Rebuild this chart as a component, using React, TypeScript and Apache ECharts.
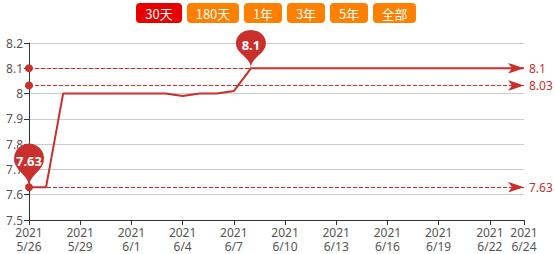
import React, { useEffect, useRef } from "react";
import * as echarts from "echarts";

const dates = [
  "2021/5/26", "2021/5/27", "2021/5/28", "2021/5/29", "2021/5/30", "2021/5/31",
  "2021/6/1", "2021/6/2", "2021/6/3", "2021/6/4", "2021/6/5", "2021/6/6",
  "2021/6/7", "2021/6/8", "2021/6/9", "2021/6/10", "2021/6/11", "2021/6/12",
  "2021/6/13", "2021/6/14", "2021/6/15", "2021/6/16", "2021/6/17", "2021/6/18",
  "2021/6/19", "2021/6/20", "2021/6/21", "2021/6/22", "2021/6/23", "2021/6/24",
];
const values = [
  7.63, 7.63, 8.0, 8.0, 8.0, 8.0,
  8.0, 8.0, 8.0, 7.99, 8.0, 8.0,
  8.01, 8.1, 8.1, 8.1, 8.1, 8.1,
  8.1, 8.1, 8.1, 8.1, 8.1, 8.1,
  8.1, 8.1, 8.1, 8.1, 8.1, 8.1,
];
const buttons = ["30天", "180天", "1年", "3年", "5年", "全部"];
const buttonWidths = [46, 52, 38, 38, 38, 43];
const yMin = 7.5;
const yMax = 8.2;
const yStep = 0.1;

const RED = "#c9302c";

export default function App() {
  const ref = useRef<HTMLDivElement>(null);
  useEffect(() => {
    if (!ref.current) return;
    const chart = echarts.init(ref.current, null, { renderer: "svg" });
    const showIdx = (i: number) => i % 3 === 0 || i === dates.length - 1;
    let x = 136;
    const btnEls: any[] = [];
    buttons.forEach((b, i) => {
      const w = buttonWidths[i];
      btnEls.push({
        type: "group",
        left: x,
        top: 3,
        children: [
          {
            type: "rect",
            shape: { x: 0, y: 0, width: w, height: 20, r: 4 },
            style: { fill: i === 0 ? "#e60000" : "#ff8000" },
          },
          {
            type: "text",
            x: w / 2,
            y: 10,
            style: {
              text: b,
              fill: "#fff",
              font: "13px 'Noto Sans CJK SC', sans-serif",
              align: "center",
              verticalAlign: "middle",
            },
          },
        ],
      });
      x += w + 5;
    });

    const maxV = Math.max(...values);
    const minV = Math.min(...values);
    const avgV = values.reduce((a, b) => a + b, 0) / values.length;
    const last = dates.length - 1;
    const fmt = (v: number) => String(parseFloat(v.toFixed(2)));
    const pair = (v: number) => [
      { coord: [0, v], symbol: "circle", symbolSize: 8, name: fmt(v) },
      { coord: [last, v], symbol: "arrow", symbolSize: [8, 16], name: fmt(v) },
    ];

    chart.setOption({
      animation: false,
      textStyle: { fontFamily: "'Noto Sans', 'Noto Sans CJK SC', sans-serif" },
      graphic: btnEls,
      grid: { left: 29, right: 31, top: 43, bottom: 34, containLabel: false },
      xAxis: {
        type: "category",
        boundaryGap: false,
        data: dates,
        axisLine: { lineStyle: { color: "#333" } },
        axisTick: { interval: (i: number) => showIdx(i), lineStyle: { color: "#333" } },
        axisLabel: {
          interval: (i: number) => showIdx(i),
          color: "#555",
          fontSize: 12,
          lineHeight: 14,
          margin: 5,
          formatter: (v: string) => {
            const p = v.split("/");
            return p[0] + "\n" + p[1] + "/" + p[2];
          },
        },
        splitLine: { show: false },
      },
      yAxis: {
        type: "value",
        min: yMin,
        max: yMax,
        interval: yStep,
        axisLine: { show: true, lineStyle: { color: "#333" } },
        axisTick: { show: true, lineStyle: { color: "#333" } },
        axisLabel: { color: "#555", fontSize: 12, margin: 6 },
        splitLine: { lineStyle: { color: "#ccc" } },
      },
      series: [
        {
          type: "line",
          data: values,
          showSymbol: false,
          lineStyle: { color: RED, width: 2 },
          itemStyle: { color: RED },
          markPoint: {
            itemStyle: { color: RED },
            label: { color: "#fff", fontSize: 13, fontWeight: "bold" },
            data: [
              { type: "max", name: "max", symbolSize: [50, 44] },
              { type: "min", name: "min", symbolSize: 50 },
            ],
          },
          markLine: {
            lineStyle: { color: RED, type: "dashed", width: 1 },
            label: { color: RED, fontSize: 12, distance: 5, formatter: "{b}" },
            emphasis: { disabled: true },
            data: [pair(maxV), pair(avgV), pair(minV)],
          },
        },
      ],
    });
    return () => chart.dispose();
  }, []);
  return (
    <div
      ref={ref}
      style={{ position: "absolute", left: 0, top: 0, width: 555, height: 254 }}
    />
  );
}
